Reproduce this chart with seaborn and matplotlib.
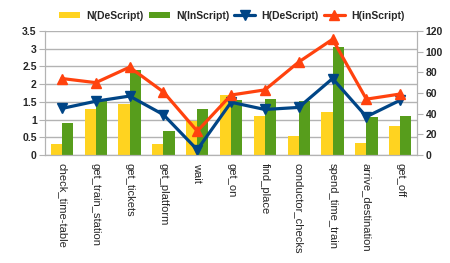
import pandas as pd
import seaborn as sns
import matplotlib.pyplot as plt
from matplotlib.patches import Patch

# categories and values
steps = ['check_time-table', 'get_train_station', 'get_tickets', 'get_platform', 'wait',
         'get_on', 'find_place', 'conductor_checks', 'spend_time_train',
         'arrive_destination', 'get_off']
n_descript = [0.30, 1.29, 1.45, 0.30, 0.95, 1.70, 1.10, 0.54, 1.21, 0.34, 0.83]
n_inscript = [0.91, 1.53, 2.41, 0.68, 1.29, 1.55, 1.58, 1.52, 3.04, 1.07, 1.10]
h_descript = [45, 52, 57, 39, 5, 51, 44, 46, 74, 37, 53]
h_inscript = [74, 70, 85, 61, 23, 58, 63, 90, 112, 54, 59]

yellow, green, blue, red = '#FFD320', '#579D1C', '#004586', '#FF420E'

sns.set_style('white')
plt.rcParams['font.family'] = ['Liberation Sans', 'DejaVu Sans']

bars = pd.DataFrame({
    'step': steps * 2,
    'value': n_descript + n_inscript,
    'series': ['N(DeScript)'] * len(steps) + ['N(InScript)'] * len(steps),
})

fig = plt.figure(figsize=(4.5, 2.63), dpi=100)
ax = fig.add_axes([0.1, 0.411, 0.827, 0.471])
sns.barplot(data=bars, x='step', y='value', hue='series', ax=ax,
            palette=[yellow, green], width=0.66, saturation=1, legend=False,
            linewidth=0)
ax.set_ylim(0, 3.5)
ax.set_yticks([0, 0.5, 1, 1.5, 2, 2.5, 3, 3.5])
ax.set_yticklabels(['0', '0.5', '1', '1.5', '2', '2.5', '3', '3.5'])
ax.set_xlim(-0.5, len(steps) - 0.5)
ax.set_xlabel('')
ax.set_ylabel('')
ax.yaxis.grid(True, color='#b3b3b3', linewidth=1)
ax.set_axisbelow(True)
ax.set_xticks(range(len(steps)))
ax.set_xticklabels(steps, rotation=270, fontsize=8, ha='center', va='top')
ax.tick_params(axis='x', length=0, pad=6)
ax.set_xticks([i - 0.5 for i in range(len(steps) + 1)], minor=True)
ax.tick_params(axis='x', which='minor', length=4, color='#b3b3b3')
ax.tick_params(axis='y', length=4, color='#b3b3b3', labelsize=7.5, pad=2)
for lab in ax.get_yticklabels():
    lab.set_fontweight('bold')
ax.spines['top'].set_visible(False)
for s in ['left', 'right', 'bottom']:
    ax.spines[s].set_color('#b3b3b3')

ax2 = ax.twinx()
x = list(range(len(steps)))
ax2.plot(x, h_descript, color=blue, lw=2.3, marker='v', ms=6.5, label='H(DeScript)')
ax2.plot(x, h_inscript, color=red, lw=2.3, marker='^', ms=6.5, label='H(inScript)')
ax2.set_ylim(0, 120)
ax2.set_yticks(range(0, 121, 20))
ax2.tick_params(axis='y', length=4, color='#b3b3b3', labelsize=7.5, pad=2)
for lab in ax2.get_yticklabels():
    lab.set_fontweight('bold')
ax2.spines['top'].set_visible(False)
for s in ['left', 'right', 'bottom']:
    ax2.spines[s].set_color('#b3b3b3')

handles = [Patch(facecolor=yellow, linewidth=0), Patch(facecolor=green, linewidth=0)]
h2, l2 = ax2.get_legend_handles_labels()
fig.legend(handles + h2, ['N(DeScript)', 'N(InScript)'] + l2, loc='center',
           bbox_to_anchor=(0.515, 0.94), ncol=4, frameon=False,
           prop={'weight': 'bold', 'size': 7.5}, handlelength=2.0, handleheight=0.5,
           columnspacing=0.5, handletextpad=0.6)

fig.savefig('out.png', dpi=100)
